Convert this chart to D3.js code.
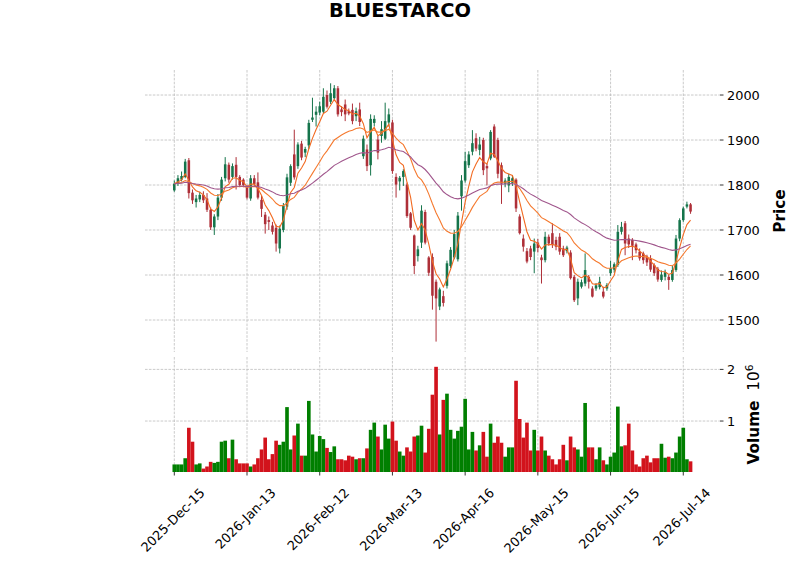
<!DOCTYPE html>
<html><head><meta charset="utf-8">
<script src="https://cdn.jsdelivr.net/npm/d3@7"></script>
<style>body{margin:0;background:#fff}svg{display:block}text{font-family:"DejaVu Sans",sans-serif}</style>
</head><body><svg id="c" width="800" height="575"></svg>
<script>
const opens =[1788,1803,1812,1818,1855,1783,1762,1768,1778,1770,1745,1706,1730,1772,1815,1845,1818,1845,1818,1812,1795,1770,1815,1806,1767,1734,1722,1710,1705,1659,1700,1752,1805,1868,1842,1892,1872,1888,1945,1956,1961,1963,2000,1985,1993,2015,1968,1979,1964,1967,1953,1968,1864,1879,1844,1938,1901,1909,1903,1939,1939,1818,1808,1818,1801,1737,1688,1642,1672,1740,1639,1640,1585,1530,1553,1576,1620,1639,1635,1775,1810,1844,1874,1904,1878,1900,1842,1859,1930,1900,1844,1803,1799,1805,1812,1730,1681,1653,1659,1652,1672,1639,1633,1685,1693,1678,1685,1659,1653,1650,1596,1548,1574,1581,1596,1570,1570,1573,1563,1570,1604,1612,1622,1696,1715,1681,1678,1668,1652,1648,1641,1637,1622,1614,1589,1596,1596,1589,1611,1681,1722,1752,1757];
const highs =[1810,1822,1830,1858,1860,1790,1778,1785,1786,1782,1750,1735,1780,1818,1862,1850,1848,1862,1822,1815,1800,1822,1822,1828,1776,1740,1730,1718,1712,1710,1760,1825,1846,1923,1895,1898,1885,1945,1994,1975,1985,2015,2010,2026,2022,2020,1975,1990,1970,1981,1972,1983,1910,1890,1957,1955,1909,1942,1983,1970,1945,1826,1820,1835,1805,1740,1690,1665,1755,1745,1642,1648,1590,1572,1565,1632,1662,1700,1740,1822,1874,1875,1922,1915,1907,1905,1848,1922,1935,1905,1850,1815,1825,1820,1815,1735,1690,1660,1665,1681,1680,1645,1696,1690,1715,1685,1693,1665,1665,1655,1600,1592,1590,1648,1600,1575,1582,1596,1574,1582,1632,1628,1711,1718,1720,1690,1682,1672,1659,1652,1645,1644,1626,1618,1610,1612,1600,1620,1689,1726,1752,1763,1760];
const lows  =[1785,1798,1808,1815,1770,1758,1750,1762,1760,1740,1700,1689,1722,1765,1808,1805,1812,1790,1795,1795,1768,1765,1798,1768,1729,1692,1700,1690,1652,1648,1695,1745,1798,1812,1836,1855,1862,1880,1940,1930,1955,1960,1970,1980,1988,1952,1953,1942,1955,1935,1942,1931,1858,1831,1821,1930,1857,1894,1900,1930,1825,1772,1788,1798,1727,1700,1602,1630,1660,1668,1598,1523,1452,1522,1530,1570,1615,1635,1630,1743,1805,1838,1866,1875,1866,1822,1799,1855,1860,1815,1758,1795,1784,1798,1740,1690,1652,1626,1633,1604,1650,1581,1628,1665,1660,1655,1645,1640,1648,1590,1540,1533,1570,1575,1570,1550,1565,1568,1548,1565,1598,1605,1618,1690,1644,1660,1633,1648,1632,1625,1620,1607,1598,1585,1585,1588,1567,1585,1607,1675,1718,1748,1736];
const closes=[1803,1815,1820,1852,1782,1766,1770,1778,1766,1745,1706,1730,1772,1812,1846,1812,1842,1818,1800,1800,1772,1815,1802,1772,1747,1713,1718,1696,1670,1703,1754,1817,1842,1817,1890,1861,1880,1938,1950,1963,1975,1996,1974,2004,2015,1957,1962,1957,1959,1942,1964,1940,1903,1842,1947,1947,1872,1924,1942,1957,1831,1801,1816,1831,1731,1705,1620,1657,1743,1672,1605,1554,1548,1568,1538,1626,1656,1691,1732,1810,1853,1868,1893,1881,1890,1833,1837,1918,1863,1825,1803,1810,1818,1815,1748,1693,1663,1630,1640,1670,1660,1633,1685,1670,1667,1663,1652,1644,1661,1593,1544,1585,1584,1611,1585,1552,1577,1585,1552,1578,1615,1624,1696,1707,1670,1668,1665,1655,1637,1633,1628,1612,1604,1590,1601,1606,1589,1611,1681,1722,1748,1757,1741];
const volumes=[0.16,0.16,0.16,0.28,0.87,0.60,0.16,0.18,0.08,0.12,0.21,0.19,0.21,0.60,0.62,0.28,0.64,0.26,0.18,0.18,0.18,0.12,0.16,0.28,0.45,0.68,0.26,0.36,0.62,0.54,0.60,1.27,0.45,0.72,0.95,0.33,0.33,1.39,0.74,0.41,0.71,0.65,0.48,0.40,0.51,0.26,0.26,0.24,0.33,0.31,0.26,0.28,0.28,0.47,0.83,0.97,0.70,0.45,0.93,0.66,0.99,0.62,0.41,0.33,0.49,0.41,0.70,0.72,0.91,0.39,0.85,1.51,2.05,0.74,1.41,1.53,0.83,0.66,0.81,0.89,1.43,0.45,0.79,0.43,0.53,0.79,0.31,0.95,0.58,0.70,0.58,0.31,0.49,0.49,1.78,1.04,0.68,0.97,0.43,0.83,0.43,0.70,0.43,0.33,0.26,0.16,0.26,0.54,0.24,0.70,0.49,0.45,0.31,1.35,0.49,0.49,0.26,0.49,0.24,0.16,0.31,0.39,1.28,0.51,0.53,0.95,0.43,0.16,0.12,0.28,0.33,0.20,0.28,0.28,0.56,0.29,0.31,0.28,0.39,0.70,0.87,0.26,0.22];
const tickIndex=[0,20,40,60,80,100,120,140];
const tickLabels=["2025-Dec-15","2026-Jan-13","2026-Feb-12","2026-Mar-13","2026-Apr-16","2026-May-15","2026-Jun-15","2026-Jul-14"];
const priceTicks=[1500,1600,1700,1800,1900,2000];
const volumeTicks=[1,2];
const emaSpans=[5,20,50];
const emaColors=["#f26a21","#f5792e","#a0568c"];

const svg=d3.select("#c");
const L=145,R=720, PT=70,PB=352, VT=357,VB=472;
const x=d3.scaleLinear().domain([-8.06,150.1]).range([L,R]);
const step=x(1)-x(0);
const y=d3.scaleLinear().domain([1428.9,2055.6]).range([PB,PT]);
const yv=d3.scaleLinear().domain([0.0135,2.24]).range([VB,VT]);
const upC="#15744b",dnC="#ae2f38",vUp="#007f00",vDn="#d2131c";
const grid="#bcbcbc";

const g=svg.append("g");
[[PT,PB],[VT,VB]].forEach(([t,b])=>{
  tickIndex.forEach(i=>g.append("line").attr("x1",x(i)).attr("x2",x(i)).attr("y1",t).attr("y2",b)
    .attr("stroke",grid).attr("stroke-width",0.8).attr("stroke-dasharray","2.6,1.3"));
});
priceTicks.forEach(p=>g.append("line").attr("x1",L).attr("x2",R).attr("y1",y(p)).attr("y2",y(p))
  .attr("stroke",grid).attr("stroke-width",0.8).attr("stroke-dasharray","2.6,1.3"));
volumeTicks.forEach(v=>g.append("line").attr("x1",L).attr("x2",R).attr("y1",yv(v)).attr("y2",yv(v))
  .attr("stroke",grid).attr("stroke-width",0.8).attr("stroke-dasharray","2.6,1.3"));

const idx=d3.range(closes.length);
const cg=svg.append("g");
idx.forEach(i=>{
  const up=closes[i]>=opens[i], col=up?upC:dnC;
  cg.append("line").attr("x1",x(i)).attr("x2",x(i)).attr("y1",y(highs[i])).attr("y2",y(lows[i]))
    .attr("stroke",col).attr("stroke-width",1);
  const t=y(Math.max(opens[i],closes[i])), b=y(Math.min(opens[i],closes[i]));
  cg.append("rect").attr("x",x(i)-step*0.35).attr("width",step*0.7).attr("y",t).attr("height",Math.max(0.8,b-t)).attr("fill",col);
});
function ema(vals,span){const a=2/(span+1);let out=[],e=vals[0];vals.forEach((v,k)=>{e=k?e+a*(v-e):v;out.push(e);});return out;}
emaSpans.forEach((s,k)=>{
  const vals=ema(closes,s);
  svg.append("path").datum(vals).attr("fill","none").attr("stroke",emaColors[k]).attr("stroke-width",1.1)
    .attr("d",d3.line().x((d,i)=>x(i)).y(d=>y(d)));
});
const vg=svg.append("g");
idx.forEach(i=>{
  const up=closes[i]>=opens[i];
  vg.append("rect").attr("x",x(i)-step/2).attr("width",step).attr("y",yv(volumes[i])).attr("height",VB-yv(volumes[i]))
    .attr("fill",up?vUp:vDn);
});

const ax=svg.append("g").attr("font-size","12.9px").attr("fill","#000");
priceTicks.forEach(p=>{
  ax.append("line").attr("x1",R).attr("x2",R+3.5).attr("y1",y(p)).attr("y2",y(p)).attr("stroke","#000").attr("stroke-width",0.8);
  ax.append("text").attr("x",R+7).attr("y",y(p)).attr("dy","0.36em").text(p);
});
volumeTicks.forEach(v=>{
  ax.append("line").attr("x1",R).attr("x2",R+3.5).attr("y1",yv(v)).attr("y2",yv(v)).attr("stroke","#000").attr("stroke-width",0.8);
  ax.append("text").attr("x",R+7).attr("y",yv(v)).attr("dy","0.36em").text(v);
});
tickIndex.forEach((ti,k)=>{
  svg.append("line").attr("x1",x(ti)).attr("x2",x(ti)).attr("y1",VB).attr("y2",VB+3.5).attr("stroke","#000").attr("stroke-width",0.8);
  const t=svg.append("text").attr("font-size","12.9px").attr("text-anchor","middle").attr("dominant-baseline","central").text(tickLabels[k]);
  const len=t.node().getComputedTextLength(), h=12.9;
  const cy=VB+14+(len+h)/2*Math.SQRT1_2;
  t.attr("transform",`translate(${x(ti)-1.5},${cy}) rotate(-45)`);
});
svg.append("text").attr("x",400).attr("y",17).attr("text-anchor","middle").attr("font-weight","bold").attr("font-size","19.4px").text("BLUESTARCO");
svg.append("text").attr("transform",`translate(785,${(PT+PB)/2}) rotate(-90)`).attr("text-anchor","middle")
  .attr("font-weight","bold").attr("font-size","15.3px").text("Price");
const vl=svg.append("text").attr("transform",`translate(759,${(VT+VB)/2}) rotate(-90)`).attr("text-anchor","middle").attr("font-size","15.3px");
vl.append("tspan").attr("font-weight","bold").text("Volume");
vl.append("tspan").text("\u00a0\u00a010");
vl.append("tspan").attr("font-size","10.7px").attr("dy","-0.55em").text("6");
</script></body></html>
